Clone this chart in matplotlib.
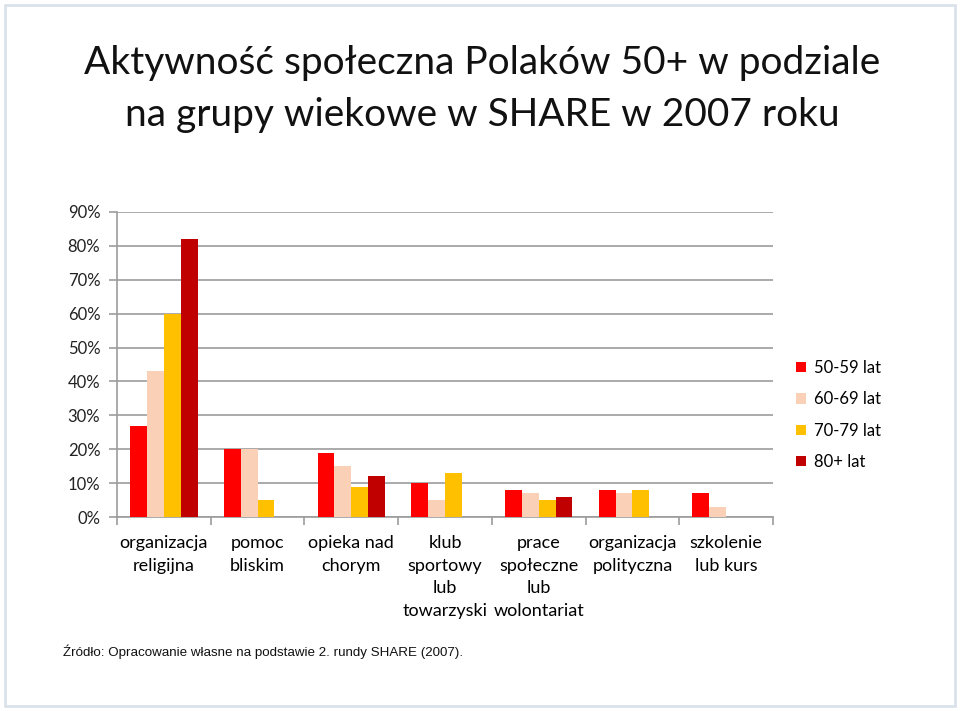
import numpy as np
import matplotlib.pyplot as plt
from matplotlib.patches import Rectangle, Patch

# Data (share of people 50+, SHARE 2007)
categories = ["organizacja\nreligijna", "pomoc\nbliskim", "opieka nad\nchorym",
              "klub\nsportowy\nlub\ntowarzyski", "prace\nspołeczne\nlub\nwolontariat",
              "organizacja\npolityczna", "szkolenie\nlub kurs"]
age_groups = ["50-59 lat", "60-69 lat", "70-79 lat", "80+ lat"]
v_50_59 = [0.27, 0.20, 0.19, 0.10, 0.08, 0.08, 0.07]
v_60_69 = [0.43, 0.20, 0.15, 0.05, 0.07, 0.07, 0.03]
v_70_79 = [0.60, 0.05, 0.09, 0.13, 0.05, 0.08, 0.00]
v_80p = [0.82, 0.00, 0.12, 0.00, 0.06, 0.00, 0.00]
yticks = [0.0, 0.1, 0.2, 0.3, 0.4, 0.5, 0.6, 0.7, 0.8, 0.9]

series = [v_50_59, v_60_69, v_70_79, v_80p]
colors = ["#FF0000", "#FAD1B6", "#FFC000", "#C00000"]

fig = plt.figure(figsize=(9.6, 7.11), dpi=100)
ax = fig.add_axes([117 / 960, 1 - 517 / 711, (773 - 117) / 960, (517 - 212) / 711])

x = np.arange(len(categories))
w = 0.18
for j, (vals, c) in enumerate(zip(series, colors)):
    ax.bar(x + (j - 1.5) * w, vals, width=w, color=c, zorder=3)

ax.set_xlim(-0.5, len(categories) - 0.5)
ax.set_ylim(0, 0.9)
ax.set_yticks(yticks)
ax.set_yticklabels([f"{int(round(t * 100))}%" for t in yticks],
                   fontsize=12, family="Lato", color="#222222")
ax.yaxis.grid(True, color="#9C9C9C", linewidth=1.2, zorder=0)
ax.tick_params(axis="y", length=6, color="#9C9C9C", width=1.2, pad=6)

# category labels between boundary ticks
ax.set_xticks(np.arange(-0.5, len(categories), 1.0))
ax.set_xticklabels([])
ax.set_xticks(x, minor=True)
ax.set_xticklabels(categories, minor=True, fontsize=13, family="Lato",
                   linespacing=1.5, va="top")
ax.tick_params(axis="x", which="major", length=6, color="#9C9C9C", width=1.2)
ax.tick_params(axis="x", which="minor", length=0, pad=13)

for s in ["top", "right"]:
    ax.spines[s].set_visible(False)
for s in ["left", "bottom"]:
    ax.spines[s].set_color("#9C9C9C")
    ax.spines[s].set_linewidth(1.2)

handles = [Patch(facecolor=c, edgecolor="none") for c in colors]
fig.legend(handles, age_groups, loc="upper left", bbox_to_anchor=(781 / 960, 1 - 345 / 711),
           frameon=False, handlelength=0.6, handleheight=0.6, handletextpad=0.45,
           labelspacing=0.92, prop={"family": "Lato", "size": 12})

fig.text(482 / 960, 1 - 63 / 711, "Aktywność społeczna Polaków 50+ w podziale",
         ha="center", va="center", fontsize=28, family="Lato", color="#111111")
fig.text(482 / 960, 1 - 115 / 711, "na grupy wiekowe w SHARE w 2007 roku",
         ha="center", va="center", fontsize=28, family="Lato", color="#111111")

fig.text(63 / 960, 1 - 652 / 711, "Źródło: Opracowanie własne na podstawie 2. rundy SHARE (2007).",
         ha="left", va="center", fontsize=9.6, family="Liberation Sans", color="#111111")

# slide frame
fig.patches.append(Rectangle((5 / 960, 5 / 711), 950 / 960, 701 / 711, transform=fig.transFigure,
                             fill=False, edgecolor="#DCE2EA", linewidth=2))

fig.savefig("out.png", dpi=100, facecolor="white")
